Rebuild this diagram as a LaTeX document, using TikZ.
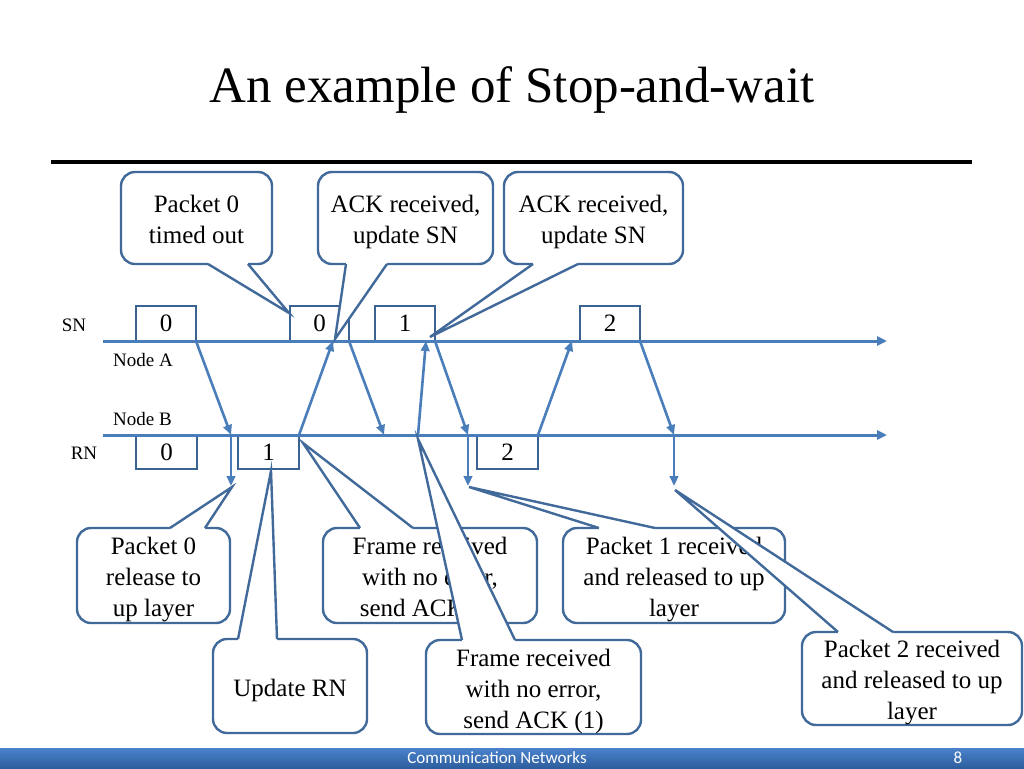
\documentclass[tikz,border=0pt]{standalone}
\usepackage{fontspec}
\setmainfont{Liberation Serif}
\newfontfamily\footfont{Carlito}
\usetikzlibrary{arrows.meta,calc}
\definecolor{lineblue}{HTML}{4A7EBB}
\definecolor{boxblue}{HTML}{3B6392}
\definecolor{calloutblue}{HTML}{41699A}
\definecolor{bartop}{HTML}{4A82CC}
\definecolor{barbot}{HTML}{2D5E9E}
% callout text: centred lines, set 4pt lower than the geometric centre
\newcommand\ctext[1]{\raisebox{-4pt}[\height][\depth]{\begin{tabular}{@{}c@{}}#1\end{tabular}}}
% tail on the bottom edge of a callout node
\newcommand\tailS[4]{%
  \fill[white] ($(#1.south west)+(#2,-3)$) -- ($(#1.south west)+(#2,0)$) -- (#4) -- ($(#1.south west)+(#3,0)$) -- ($(#1.south west)+(#3,-3)$) -- cycle;
  \draw[tailline] ($(#1.south west)+(#2,0)$) -- (#4) -- ($(#1.south west)+(#3,0)$);}
% tail on the top edge of a callout node
\newcommand\tailN[4]{%
  \fill[white] ($(#1.north west)+(#2,3)$) -- ($(#1.north west)+(#2,0)$) -- (#4) -- ($(#1.north west)+(#3,0)$) -- ($(#1.north west)+(#3,3)$) -- cycle;
  \draw[tailline] ($(#1.north west)+(#2,0)$) -- (#4) -- ($(#1.north west)+(#3,0)$);}
\begin{document}
\begin{tikzpicture}[x=1pt,y=-1pt,
  timeline/.style={draw=lineblue, line width=3pt, -{Triangle[length=10pt,width=9pt]}},
  msg/.style={draw=lineblue, line width=2.6pt, -{Triangle[length=10pt,width=8.5pt]}},
  numbox/.style={draw=boxblue, line width=2.4pt, fill=white, minimum width=60pt, minimum height=35pt, inner sep=0pt, outer sep=0pt, font=\fontsize{25}{30}\selectfont},
  callbox/.style={draw=calloutblue, line width=2.4pt, fill=white, rounded corners=14pt, inner sep=0pt, outer sep=0pt, font=\fontsize{25}{31}\selectfont},
  tailline/.style={draw=calloutblue, line width=2.4pt, line join=miter},
  lab/.style={font=\fontsize{19}{22}\selectfont, inner sep=0pt}]
\useasboundingbox (0,0) rectangle (1024,768);
\fill[white] (0,0) rectangle (1024,768);

% title and rule
\node[font=\fontsize{51}{60}\selectfont, inner sep=0pt] (title) at (512,90) {An example of Stop-and-wait};
\draw[line width=4pt] (51,162) -- (972,162);

% labels
\node[lab] (snl) at (74,325) {SN};
\node[lab] (rnl) at (84,453) {RN};
\node[lab, anchor=west] (na) at (113,360) {Node A};
\node[lab, anchor=west] (nb) at (113,419) {Node B};

% SN / RN boxes
\node[numbox] (sn0) at (166,323.5) {0};
\node[numbox, minimum width=59pt] (sn0b) at (319.5,323.5) {0};
\node[numbox] (sn1) at (405,323.5) {1};
\node[numbox] (sn2) at (610,323.5) {2};
\node[numbox, minimum width=61pt, minimum height=34pt] (rn0) at (166.5,452) {0};
\node[numbox, minimum width=61pt, minimum height=34pt] (rn1) at (268.5,452) {1};
\node[numbox, minimum width=61pt, minimum height=34pt] (rn2) at (507.5,452) {2};

% time lines
\coordinate (A0) at (103,341); \coordinate (A1) at (887,341);
\coordinate (B0) at (103,435); \coordinate (B1) at (887,435);
\draw[timeline] (A0) -- (A1);
\draw[timeline] (B0) -- (B1);

% events
\coordinate (rx1) at (231,435); \coordinate (rx1d) at (231,486);
\coordinate (ak1) at (333,341);
\coordinate (rx2) at (384,435);
\coordinate (bk2) at (418,435); \coordinate (ak2) at (426,341);
\coordinate (rx3) at (468,435); \coordinate (rx3d) at (468,486);
\coordinate (ak3) at (572,341);
\coordinate (rx4) at (674,435); \coordinate (rx4d) at (674,486);

\draw[msg] (sn0.south east) -- (rx1);
\draw[msg] (rx1) -- (rx1d);
\draw[msg] (rn1.north east) -- (ak1);
\draw[msg] (sn0b.south east) -- (rx2);
\draw[msg] (bk2) -- (ak2);
\draw[msg] (sn1.south east) -- (rx3);
\draw[msg] (rx3) -- (rx3d);
\draw[msg] (rn2.north east) -- (ak3);
\draw[msg] (sn2.south east) -- (rx4);
\draw[msg] (rx4) -- (rx4d);

% callout tips
\coordinate (tA) at (289,313);
\coordinate (tB) at (335,339);
\coordinate (tC) at (430,337);
\coordinate (tD) at (232,487);
\coordinate (tE) at (271,471);
\coordinate (tF) at (303,443);
\coordinate (tG) at (418,439);
\coordinate (tH) at (469,487);
\coordinate (tI) at (675,490);

% top callouts
\node[callbox, minimum width=151pt, minimum height=92pt] (cA) at (196.5,218) {\ctext{Packet 0\\timed out}};
\tailS{cA}{87}{127}{tA}
\node[callbox, minimum width=175pt, minimum height=92pt] (cB) at (405.5,218) {\ctext{ACK received,\\update SN}};
\tailS{cB}{28}{69}{tB}
\node[callbox, minimum width=179pt, minimum height=92pt] (cC) at (593.5,218) {\ctext{ACK received,\\update SN}};
\tailS{cC}{29}{74}{tC}

% bottom callouts
\node[callbox, minimum width=153pt, minimum height=95pt] (cD) at (153.5,575.5) {\ctext{Packet 0\\release to\\up layer}};
\tailN{cD}{93}{128}{tD}
\node[callbox, minimum width=154pt, minimum height=94pt] (cE) at (290,686) {\ctext{Update RN}};
\tailN{cE}{25}{64}{tE}
\node[callbox, minimum width=214pt, minimum height=95pt] (cF) at (430,575.5) {\ctext{Frame received\\with no error,\\send ACK (1)}};
\tailN{cF}{37}{90}{tF}
\node[callbox, minimum width=215pt, minimum height=94pt] (cG) at (533.5,687) {\ctext{Frame received\\with no error,\\send ACK (1)}};
\tailN{cG}{36}{89}{tG}
\node[callbox, minimum width=222pt, minimum height=95pt] (cH) at (674,575.5) {\ctext{Packet 1 received\\and released to up\\layer}};
\tailN{cH}{36}{92}{tH}
\node[callbox, minimum width=220pt, minimum height=93pt] (cI) at (912,678.5) {\ctext{Packet 2 received\\and released to up\\layer}};
\tailN{cI}{36}{91}{tI}

% footer
\shade[top color=bartop, bottom color=barbot] (0,748) rectangle (1024,768);
\node[font=\footfont\fontsize{17}{20}\selectfont, text=white, inner sep=0pt] (ft) at (497,758) {Communication Networks};
\node[font=\footfont\fontsize{17}{20}\selectfont, text=white, inner sep=0pt] (pg) at (958,758) {8};
\end{tikzpicture}
\end{document}
